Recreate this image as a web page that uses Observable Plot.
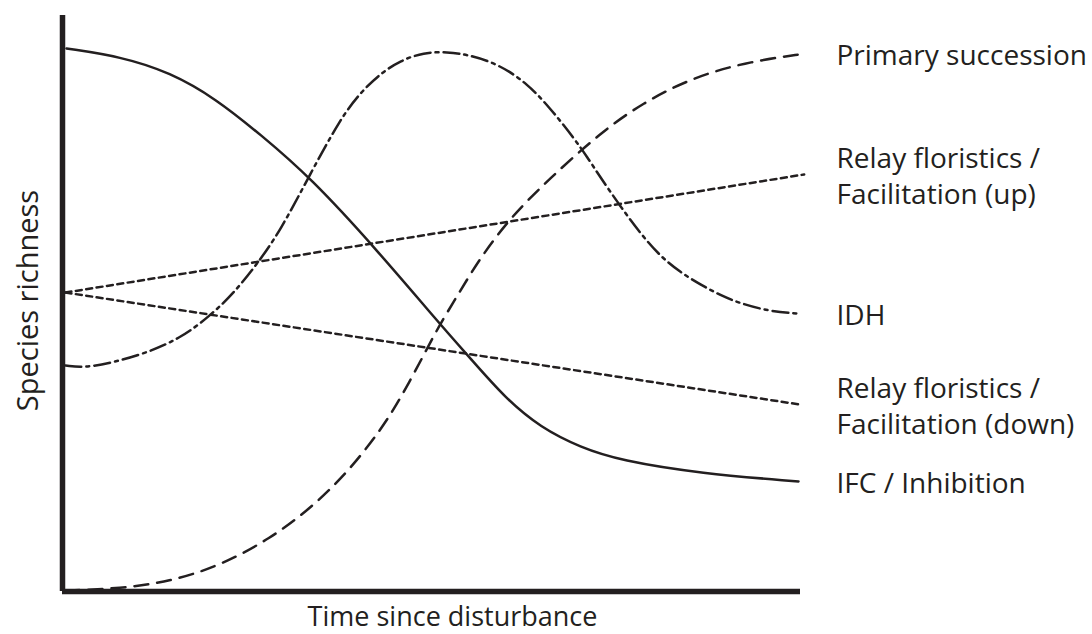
<!DOCTYPE html>
<html>
<head>
<meta charset="utf-8">
<script src="https://cdn.jsdelivr.net/npm/d3@7"></script>
<script src="https://cdn.jsdelivr.net/npm/@observablehq/plot@0.6"></script>
<style>
  body { margin: 0; background: #fff; }
  svg { display: block; }
</style>
</head>
<body>
<div id="chart"></div>
<script>
// Conceptual curves (time since disturbance 0–100, species richness 0–100)
const ifcTime = [0.54, 7.86, 14.63, 20.73, 26.83, 33.60, 42.68, 50.95, 55.28, 60.03, 64.77, 70.19, 75.61, 86.45, 99.73];
const ifcRichness = [94.27, 92.88, 90.10, 85.59, 79.34, 71.88, 59.20, 46.70, 40.45, 33.51, 28.47, 25.00, 22.74, 20.49, 19.10];

const primaryTime = [0.41, 7.86, 14.63, 21.41, 28.18, 33.60, 38.62, 43.09, 45.80, 48.92, 50.81, 53.93, 56.64, 60.70, 65.72, 72.90, 78.73, 85.09, 92.28, 100.68];
const primaryRichness = [0.17, 0.52, 1.74, 4.51, 9.20, 14.41, 20.66, 27.95, 33.51, 40.97, 45.66, 52.26, 57.99, 64.93, 71.35, 79.69, 84.90, 89.06, 91.84, 93.40];

const idhTime = [0.41, 3.52, 10.57, 15.99, 20.05, 23.17, 26.42, 29.54, 33.60, 37.67, 40.38, 43.09, 45.80, 48.92, 52.17, 54.88, 58.94, 63.01, 66.12, 69.24, 71.14, 72.90, 75.61, 78.32, 81.03, 83.74, 86.45, 89.16, 91.87, 95.93, 99.59];
const idhRichness = [39.24, 38.72, 40.97, 43.92, 47.92, 51.74, 56.94, 62.67, 72.57, 82.12, 86.63, 89.93, 92.19, 93.58, 93.70, 93.20, 91.67, 88.19, 83.85, 78.82, 75.35, 71.88, 66.84, 62.15, 58.16, 55.38, 53.30, 51.39, 50.00, 48.61, 48.26];

const relayUpTime = [0.4, 100.5];
const relayUpRichness = [51.9, 72.4];

const relayDownTime = [0.4, 99.7];
const relayDownRichness = [51.9, 32.5];

const seriesNames = ["Primary succession", "Relay floristics /\nFacilitation (up)", "IDH", "Relay floristics /\nFacilitation (down)", "IFC / Inhibition"];
const xTitle = "Time since disturbance";
const yTitle = "Species richness";

const ink = "#231f20";
const font = "'Open Sans', 'Noto Sans', sans-serif";

const toRows = (xs, ys) => xs.map((x, i) => ({x, y: ys[i]}));
const primary = toRows(primaryTime, primaryRichness);
const relayUp = toRows(relayUpTime, relayUpRichness);
const idh = toRows(idhTime, idhRichness);
const relayDown = toRows(relayDownTime, relayDownRichness);
const ifc = toRows(ifcTime, ifcRichness);

const ends = [primary, relayUp, idh, relayDown, ifc].map((s, i) => ({label: seriesNames[i], y: s[s.length - 1].y}));

const lineOpts = {x: "x", y: "y", curve: "basis", stroke: ink, strokeWidth: 2.5};

const chart = Plot.plot({
  width: 1092,
  height: 634,
  marginLeft: 62,
  marginRight: 292,
  marginTop: 15,
  marginBottom: 43,
  x: {domain: [0, 100], axis: null},
  y: {domain: [0, 100], axis: null},
  style: {fontFamily: font, background: "#fff", color: ink},
  marks: [
    Plot.line(ifc, {...lineOpts}),
    Plot.line(primary, {...lineOpts, strokeDasharray: "14,9"}),
    Plot.line(idh, {...lineOpts, strokeDasharray: "16,5,3,5"}),
    Plot.line(relayUp, {...lineOpts, curve: "linear", strokeDasharray: "6,4.5"}),
    Plot.line(relayDown, {...lineOpts, curve: "linear", strokeDasharray: "6,4.5"}),
    Plot.ruleX([0], {stroke: ink, strokeWidth: 5.5}),
    Plot.ruleY([0], {stroke: ink, strokeWidth: 5.5}),
    Plot.text(ends, {x: () => 100, y: "y", text: "label", dx: 36, textAnchor: "start", lineAnchor: "middle", lineHeight: 1.3, fontSize: 28, fill: ink}),
    Plot.text([xTitle], {frameAnchor: "bottom", textAnchor: "middle", dx: 21, dy: 26, lineAnchor: "middle", fontSize: 27, fill: ink}),
    Plot.text([yTitle], {frameAnchor: "left", textAnchor: "middle", rotate: -90, dx: -34, dy: -3, lineAnchor: "middle", fontSize: 29, fill: ink})
  ]
});
document.getElementById("chart").append(chart);
</script>
</body>
</html>
